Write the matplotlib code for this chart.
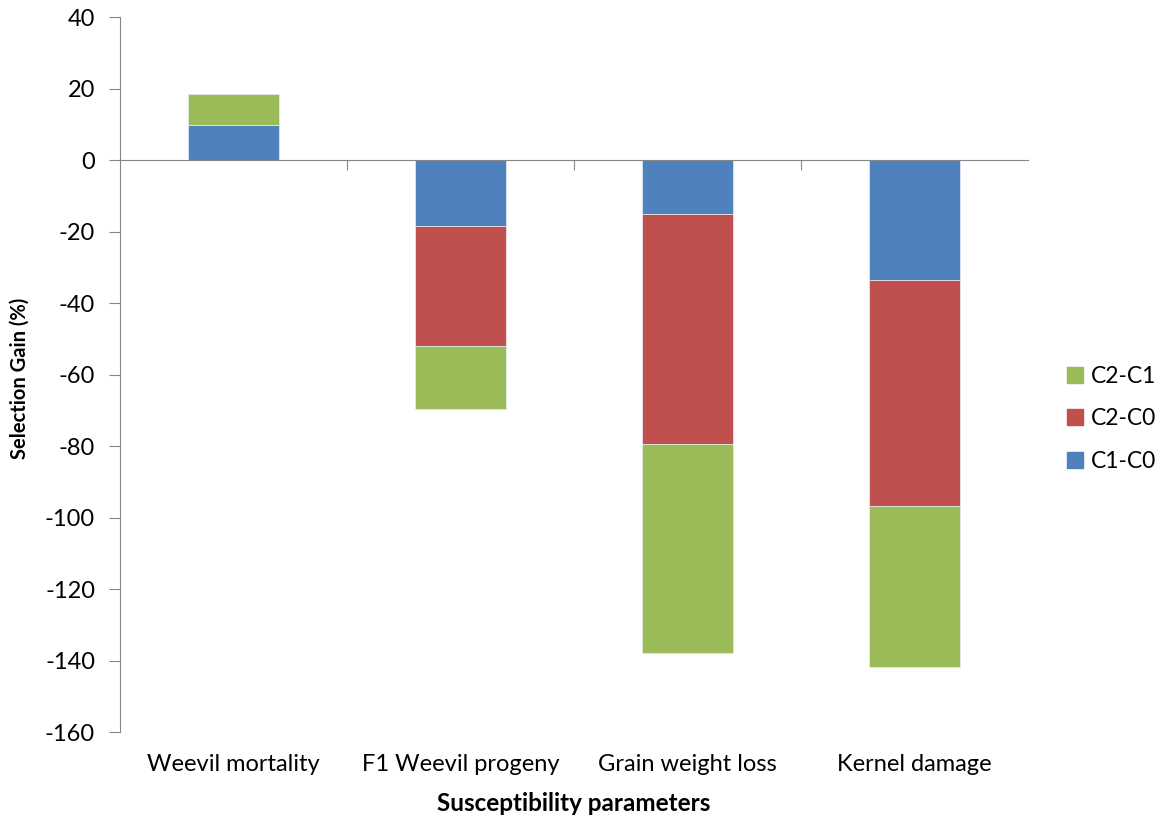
import numpy as np
import matplotlib
matplotlib.use("Agg")
import matplotlib.pyplot as plt
from matplotlib.lines import Line2D

plt.rcParams['font.family'] = ['Lato', 'DejaVu Sans']

categories = ["Weevil mortality", "F1 Weevil progeny", "Grain weight loss", "Kernel damage"]
c1_c0 = [9.8, -18.3, -15.0, -33.4]
c2_c0 = [0.0, -33.7, -64.5, -63.4]
c2_c1 = [8.8, -17.7, -58.5, -44.9]
yticks = [40, 20, 0, -20, -40, -60, -80, -100, -120, -140, -160]

series = [("C1-C0", c1_c0, "#4F81BD"),
          ("C2-C0", c2_c0, "#C0504D"),
          ("C2-C1", c2_c1, "#9BBB59")]

fig = plt.figure(figsize=(11.62, 8.18), dpi=100)
ax = fig.add_axes([0.1033, 0.105, 0.7814, 0.874])

x = np.arange(len(categories))
pos_base = np.zeros(len(categories))
neg_base = np.zeros(len(categories))
for name, vals, col in series:
    v = np.array(vals, dtype=float)
    base = np.where(v >= 0, pos_base, neg_base)
    ax.bar(x, v, width=0.4, bottom=base, color=col, edgecolor="#e8eef7",
           linewidth=0.5, label=name, zorder=2)
    pos_base = pos_base + np.where(v >= 0, v, 0)
    neg_base = neg_base + np.where(v < 0, v, 0)

ax.set_xlim(-0.5, len(categories) - 0.5)
ax.set_ylim(-160, 40)
ax.set_yticks(yticks)
ax.set_yticklabels([str(t) for t in yticks], fontsize=17)

spine_col = "#868686"
for s in ["top", "right"]:
    ax.spines[s].set_visible(False)
ax.spines["left"].set_color(spine_col)
ax.spines["bottom"].set_color(spine_col)
ax.spines["bottom"].set_position(("data", 0))
ax.tick_params(axis="y", direction="out", length=8, color=spine_col, pad=10)

# category boundary ticks on the zero line, no labels there
ax.set_xticks([0.5, 1.5, 2.5])
ax.set_xticklabels([])
ax.tick_params(axis="x", direction="out", length=7, color=spine_col)

# category labels along the bottom of the plot area
sec = ax.secondary_xaxis("bottom")
sec.set_xticks(x)
sec.set_xticklabels(categories, fontsize=17)
sec.tick_params(length=0, pad=16)
sec.spines["bottom"].set_visible(False)

fig.text(0.494, 0.0183, "Susceptibility parameters", fontsize=17.5,
         fontweight="bold", ha="center", va="center")
fig.text(0.0172, 0.538, "Selection Gain (%)", fontsize=14.5,
         fontweight="bold", ha="center", va="center", rotation=90)

handles = [Line2D([0], [0], marker="s", linestyle="none", markersize=11,
                  markerfacecolor=col, markeredgecolor=col) for _, _, col in series[::-1]]
labels = [name for name, _, _ in series[::-1]]
fig.legend(handles, labels, loc="center left", bbox_to_anchor=(0.8995, 0.488),
           frameon=False, fontsize=16.5, labelspacing=0.95, handletextpad=0.3,
           handlelength=0.8)

fig.savefig("out.png", dpi=100, facecolor="white")
